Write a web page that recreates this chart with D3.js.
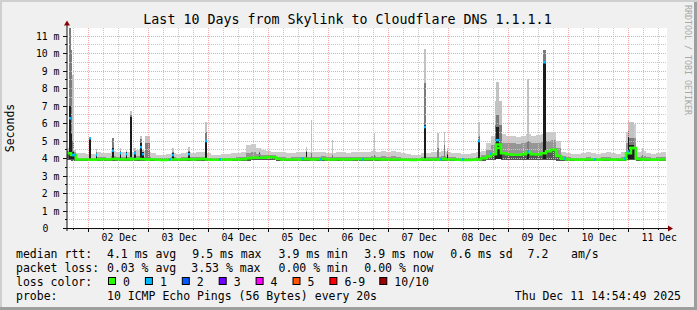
<!DOCTYPE html>
<html>
<head>
<meta charset="utf-8">
<script src="https://cdn.jsdelivr.net/npm/d3@7"></script>
<style>
body { margin: 0; background: #f0f0f0; }
text { font-family: "DejaVu Sans Mono", monospace; fill: #000; white-space: pre; }
</style>
</head>
<body>
<div id="chart"></div>
<script>
///////////////////////////// DATA /////////////////////////////

const startTime = new Date(2025, 11, 1, 14, 54, 49);
const endTime = new Date(2025, 11, 11, 14, 54, 49);
const bucketHours = 2;   // one value per 2 hours below

// median rtt (ms), one per bucket
const medRtt = [
  4.30,4.20,3.95,3.95,3.94,3.93,3.95,3.96,3.95,3.97,
  3.96,3.95,3.95,3.96,3.97,3.96,3.95,3.94,3.93,3.92,
  3.93,3.95,3.94,3.95,3.96,3.95,3.96,3.97,3.94,3.93,
  3.93,3.94,3.93,3.94,3.95,3.96,4.02,4.05,4.05,4.04,
  4.08,4.07,3.98,3.95,3.94,3.95,3.95,3.96,3.96,3.95,
  3.96,3.97,3.95,3.95,3.96,3.95,3.95,3.96,3.97,3.96,
  3.96,3.97,3.96,3.95,3.95,3.94,3.95,3.93,3.93,3.92,
  3.93,3.94,3.95,3.95,3.95,3.96,3.95,3.94,3.93,3.92,
  3.92,3.93,3.95,4.02,4.12,4.25,4.80,4.30,4.25,4.22,
  4.22,4.25,4.35,4.25,4.23,4.30,4.42,4.50,4.15,3.98,
  3.95,3.94,3.93,3.94,3.95,3.94,3.93,3.95,3.94,3.93,
  3.94,3.95,4.30,4.60,3.97,3.95,3.94,3.93,3.94,3.95
];
// slowest ping (ms)
const maxRtt = [
  4.60,4.50,4.30,4.30,4.25,4.25,4.35,4.30,4.30,4.45,
  4.40,4.35,4.35,4.40,4.50,4.45,4.40,4.30,4.20,4.20,
  4.25,4.30,4.25,4.30,4.35,4.30,4.35,4.40,4.30,4.20,
  4.20,4.25,4.25,4.30,4.30,4.40,4.80,4.85,4.60,4.50,
  4.45,4.40,4.35,4.35,4.30,4.30,4.35,4.40,4.40,4.35,
  4.40,4.40,4.30,4.30,4.40,4.35,4.30,4.35,4.40,4.35,
  4.40,4.45,4.40,4.45,4.35,4.45,4.40,4.30,4.25,4.20,
  4.20,4.30,4.30,4.35,4.40,4.45,4.35,4.30,4.30,4.25,
  4.25,4.30,4.40,4.45,4.90,5.30,6.00,5.40,5.30,5.30,
  5.25,5.30,5.40,5.30,5.35,5.40,5.50,5.50,5.00,4.40,
  4.30,4.25,4.25,4.30,4.35,4.30,4.25,4.30,4.35,4.30,
  4.25,4.35,5.50,6.00,4.40,4.45,4.30,4.25,4.30,4.35
];
// upper quartile (ms)
const q3Rtt = [
  4.45,4.35,4.05,4.05,4.03,4.02,4.08,4.06,4.05,4.12,
  4.10,4.07,4.06,4.10,4.12,4.10,4.08,4.05,4.03,4.02,
  4.04,4.06,4.05,4.06,4.08,4.06,4.08,4.10,4.05,4.03,
  4.03,4.04,4.04,4.05,4.06,4.10,4.30,4.35,4.25,4.20,
  4.22,4.18,4.10,4.07,4.05,4.06,4.08,4.10,4.10,4.08,
  4.10,4.12,4.06,4.06,4.10,4.08,4.06,4.08,4.10,4.08,
  4.10,4.12,4.10,4.12,4.08,4.12,4.10,4.05,4.04,4.02,
  4.03,4.06,4.06,4.08,4.10,4.12,4.08,4.06,4.05,4.03,
  4.03,4.05,4.10,4.20,4.50,4.80,5.20,4.90,4.90,4.90,
  4.85,4.90,4.95,4.90,4.90,4.95,5.00,5.05,4.60,4.12,
  4.06,4.04,4.04,4.05,4.06,4.05,4.04,4.06,4.08,4.05,
  4.04,4.08,4.90,5.20,4.10,4.12,4.06,4.04,4.06,4.08
];
// fastest ping (ms)
const minRtt = [
  3.90,3.88,3.85,3.85,3.85,3.85,3.85,3.85,3.85,3.85,
  3.85,3.85,3.85,3.85,3.85,3.85,3.85,3.85,3.85,3.84,
  3.85,3.85,3.85,3.85,3.85,3.85,3.85,3.85,3.85,3.85,
  3.84,3.85,3.85,3.85,3.85,3.85,3.88,3.90,3.90,3.90,
  3.90,3.90,3.86,3.85,3.85,3.85,3.85,3.85,3.85,3.85,
  3.85,3.86,3.85,3.85,3.85,3.85,3.85,3.85,3.86,3.85,
  3.85,3.86,3.85,3.85,3.85,3.85,3.85,3.84,3.84,3.84,
  3.84,3.85,3.85,3.85,3.85,3.85,3.85,3.85,3.84,3.84,
  3.84,3.85,3.85,3.88,3.90,3.90,3.95,3.90,3.90,3.90,
  3.90,3.90,3.92,3.90,3.90,3.90,3.92,3.92,3.88,3.85,
  3.85,3.85,3.84,3.85,3.85,3.85,3.84,3.85,3.85,3.84,
  3.85,3.85,3.90,3.92,3.85,3.85,3.85,3.84,3.85,3.85
];

// short bursts: [time, minutes, black top, dark top, max, median, loss]
const bursts = [
  ["2025-12-01T16:05", 45, 7.00, 11.60, 11.60, 6.30, 1],
  ["2025-12-01T16:50", 30, 5.60, 10.20, 10.20, 5.50, 0],
  ["2025-12-01T17:20", 35, 4.40, 5.00, 8.75, 4.20, 1],
  ["2025-12-02T00:05", 50, 5.20, 5.20, 5.25, 5.15, 1],
  ["2025-12-02T02:50", 30, 4.25, 4.35, 4.55, 4.20, 1],
  ["2025-12-02T09:15", 60, 4.60, 5.15, 5.20, 4.45, 1],
  ["2025-12-02T12:20", 40, 4.40, 4.45, 4.60, 4.30, 1],
  ["2025-12-02T14:45", 40, 4.35, 4.40, 4.50, 4.25, 1],
  ["2025-12-02T16:35", 45, 6.40, 6.50, 6.70, 4.00, 0],
  ["2025-12-02T18:15", 35, 4.40, 4.45, 4.60, 4.30, 1],
  ["2025-12-02T20:25", 50, 4.90, 5.10, 5.30, 4.65, 1],
  ["2025-12-02T21:25", 30, 4.35, 4.40, 4.50, 4.25, 1],
  ["2025-12-02T22:40", 100, 4.00, 4.90, 5.30, 3.95, 0],
  ["2025-12-03T09:15", 40, 4.30, 4.40, 4.60, 4.20, 1],
  ["2025-12-03T15:45", 40, 4.35, 4.45, 4.65, 4.25, 1],
  ["2025-12-03T22:35", 50, 5.05, 5.50, 6.10, 5.00, 1],
  ["2025-12-04T20:00", 35, 4.30, 4.35, 4.50, 4.20, 1],
  ["2025-12-05T14:50", 40, 4.40, 4.45, 4.65, 4.00, 0],
  ["2025-12-05T17:00", 20, 3.95, 4.30, 6.20, 3.95, 0],
  ["2025-12-06T01:15", 20, 3.95, 4.20, 5.05, 3.95, 0],
  ["2025-12-06T18:00", 20, 3.95, 4.20, 5.45, 3.95, 0],
  ["2025-12-07T14:05", 55, 5.90, 8.30, 10.25, 5.80, 1],
  ["2025-12-07T19:30", 30, 4.00, 4.60, 5.45, 3.95, 0],
  ["2025-12-07T22:00", 40, 4.05, 4.80, 5.50, 4.00, 0],
  ["2025-12-07T23:20", 30, 4.40, 4.45, 4.60, 4.30, 1],
  ["2025-12-08T11:50", 40, 5.05, 5.30, 6.10, 5.00, 1],
  ["2025-12-08T18:30", 170, 4.60, 5.90, 7.30, 4.60, 0],
  ["2025-12-08T19:00", 70, 5.80, 6.50, 8.40, 5.05, 1],
  ["2025-12-09T07:30", 30, 4.30, 5.00, 8.55, 4.40, 1],
  ["2025-12-09T13:50", 55, 9.50, 10.20, 10.20, 9.50, 1],
  ["2025-12-10T23:35", 40, 5.25, 5.60, 6.20, 4.40, 1],
  ["2025-12-11T00:15", 110, 4.75, 5.20, 6.10, 4.60, 0],
  ["2025-12-11T05:20", 20, 4.00, 4.20, 4.60, 3.95, 0]
];

// median points with 1 lost ping: [time, median]
const lossOne = [
  ["2025-12-01T18:00", 4.20], ["2025-12-03T07:55", 3.95], ["2025-12-04T03:55", 3.95],
  ["2025-12-05T13:20", 4.00], ["2025-12-05T20:35", 3.95], ["2025-12-06T13:20", 3.95],
  ["2025-12-07T20:35", 3.95], ["2025-12-08T05:20", 3.95], ["2025-12-08T16:30", 4.28],
  ["2025-12-09T22:00", 4.00], ["2025-12-10T10:00", 3.95], ["2025-12-10T22:00", 4.00]
];

const yTickValues = [0, 1, 2, 3, 4, 5, 6, 7, 8, 9, 10, 11];
const yTickLabels = ["0", "1 m", "2 m", "3 m", "4 m", "5 m", "6 m", "7 m", "8 m", "9 m", "10 m", "11 m"];
const xTickDates = ["2025-12-02T12:00", "2025-12-03T12:00", "2025-12-04T12:00", "2025-12-05T12:00",
  "2025-12-06T12:00", "2025-12-07T12:00", "2025-12-08T12:00", "2025-12-09T12:00",
  "2025-12-10T12:00", "2025-12-11T12:00"];
const xTickLabels = ["02 Dec", "03 Dec", "04 Dec", "05 Dec", "06 Dec", "07 Dec", "08 Dec", "09 Dec", "10 Dec", "11 Dec"];

const lossColors = ["#26ff00", "#00b8ff", "#0059ff", "#7000ff", "#ff00ff", "#ff5500", "#ff0000", "#a10000"];
const lossLabels = ["0", "1", "2", "3", "4", "5", "6-9", "10/10"];

const rttStats = ["4.1 ms avg", "9.5 ms max", "3.9 ms min", "3.9 ms now", "0.6 ms sd", "7.2", "am/s"];
const lossStats = ["0.03 % avg", "3.53 % max", "0.00 % min", "0.00 % now"];
const probeText = "10 ICMP Echo Pings (56 Bytes) every 20s";
const stampText = "Thu Dec 11 14:54:49 2025";
const titleText = "Last 10 Days from Skylink to Cloudflare DNS 1.1.1.1";

///////////////////////////// CHART /////////////////////////////

const width = 697, height = 310;
const HOUR = 3600e3;
const parseT = d3.timeParse("%Y-%m-%dT%H:%M");
const snap = v => Math.floor(v) + 0.5;

const x = d3.scaleTime().domain([startTime, endTime]).range([66, 666]);
const y = d3.scaleLinear().domain([0, 11.43]).range([228.5, 28.5]);

const svg = d3.select("#chart").append("svg")
  .attr("width", width).attr("height", height);

// background + 3d border
svg.append("rect").attr("width", width).attr("height", height).attr("fill", "#f0f0f0");
svg.append("path").attr("fill", "#cfcfcf")
  .attr("d", `M0,0H${width}V2H2V${height}H0Z`);
svg.append("path").attr("fill", "#9e9e9e")
  .attr("d", `M${width},${height}H0V${height - 3}H${width - 3}V2H${width}Z`);

// canvas
svg.append("rect").attr("x", 67).attr("y", 28).attr("width", 600).attr("height", 200).attr("fill", "#fff");

svg.append("clipPath").attr("id", "plot")
  .append("rect").attr("x", 67).attr("y", 28).attr("width", 600).attr("height", 200);

const plot = svg.append("g").attr("clip-path", "url(#plot)");

// base smoke
const base = medRtt.map((m, i) => ({
  t: new Date(+startTime + i * bucketHours * HOUR),
  med: m, lo: minRtt[i], q3: q3Rtt[i], hi: maxRtt[i]
}));
base.push(Object.assign({}, base[base.length - 1], { t: endTime }));

const band = (top) => d3.area().curve(d3.curveStepAfter)
  .x(d => Math.round(x(d.t)))
  .y0(d => y(d.lo))
  .y1(d => y(d[top]));

plot.append("path").datum(base).attr("d", band("hi")).attr("fill", "#cccccc").attr("shape-rendering", "crispEdges");
plot.append("path").datum(base).attr("d", band("q3")).attr("fill", "#969696").attr("shape-rendering", "crispEdges");
plot.append("path").datum(base).attr("d", band("med")).attr("fill", "#555555").attr("shape-rendering", "crispEdges");

// bursts
const burstData = bursts.map(b => ({
  t0: parseT(b[0]), t1: new Date(+parseT(b[0]) + b[1] * 60e3),
  blk: b[2], dg: b[3], hi: b[4], med: b[5], loss: b[6]
}));

function burstRects(cls, key, color) {
  plot.selectAll("." + cls).data(burstData).enter().append("rect")
    .attr("class", cls)
    .attr("x", d => Math.round(x(d.t0)))
    .attr("width", d => Math.max(1, Math.round(x(d.t1)) - Math.round(x(d.t0))))
    .attr("y", d => y(d[key]))
    .attr("height", d => Math.max(0, y(3.95) - y(d[key])))
    .attr("fill", color)
    .attr("shape-rendering", "crispEdges");
}
burstRects("b-hi", "hi", "#c2c2c2");
burstRects("b-dg", "dg", "#7c7c7c");

// grid
const grid = plot.append("g").attr("stroke-dasharray", "1,1").attr("stroke-width", 1);
const hMinor = d3.range(0.5, 11.5, 1);
grid.selectAll(".hm").data(hMinor).enter().append("line")
  .attr("x1", 67).attr("x2", 667)
  .attr("y1", d => snap(y(d))).attr("y2", d => snap(y(d)))
  .attr("stroke", "#c8c8c8");
const vMinor = d3.timeHour.every(6).range(startTime, endTime).filter(d => d.getHours() !== 0);
grid.selectAll(".vm").data(vMinor).enter().append("line")
  .attr("y1", 28).attr("y2", 228)
  .attr("x1", d => snap(x(d))).attr("x2", d => snap(x(d)))
  .attr("stroke", "#c8c8c8");
grid.selectAll(".hM").data(yTickValues.slice(1)).enter().append("line")
  .attr("x1", 67).attr("x2", 667)
  .attr("y1", d => snap(y(d))).attr("y2", d => snap(y(d)))
  .attr("stroke", "#f3a4a4");
const vMajor = d3.timeDay.range(startTime, endTime);
grid.selectAll(".vM").data(vMajor).enter().append("line")
  .attr("y1", 28).attr("y2", 228)
  .attr("x1", d => snap(x(d))).attr("x2", d => snap(x(d)))
  .attr("stroke", "#f3a4a4");

burstRects("b-blk", "blk", "#1c1c1c");

// median line
plot.append("path").datum(base)
  .attr("d", d3.line().curve(d3.curveStepAfter).x(d => Math.round(x(d.t))).y(d => y(d.med)))
  .attr("fill", "none").attr("stroke", lossColors[0]).attr("stroke-width", 2.5);

plot.selectAll(".b-med").data(burstData).enter().append("rect")
  .attr("x", d => Math.round(x(d.t0)))
  .attr("width", d => Math.max(1, Math.round(x(d.t1)) - Math.round(x(d.t0))))
  .attr("y", d => y(d.med) - 1.25).attr("height", 2.5)
  .attr("fill", d => lossColors[d.loss]);

plot.selectAll(".l1").data(lossOne).enter().append("rect")
  .attr("x", d => Math.round(x(parseT(d[0]))))
  .attr("width", 2)
  .attr("y", d => y(d[1]) - 1.25).attr("height", 2.5)
  .attr("fill", lossColors[1]);

// axes ticks
const ticks = svg.append("g").attr("stroke", "#101010").attr("stroke-width", 1);
ticks.selectAll(".ty").data(yTickValues).enter().append("line")
  .attr("x1", 63).attr("x2", 67).attr("y1", d => snap(y(d))).attr("y2", d => snap(y(d)));
ticks.selectAll(".tym").data(hMinor).enter().append("line")
  .attr("x1", 65).attr("x2", 67).attr("y1", d => snap(y(d))).attr("y2", d => snap(y(d)));
ticks.selectAll(".tx").data(vMajor).enter().append("line")
  .attr("y1", 228).attr("y2", 232).attr("x1", d => snap(x(d))).attr("x2", d => snap(x(d)));
ticks.selectAll(".txm").data(vMinor).enter().append("line")
  .attr("y1", 228).attr("y2", 230).attr("x1", d => snap(x(d))).attr("x2", d => snap(x(d)));

// axis lines + arrows
svg.append("line").attr("x1", 63).attr("x2", 668).attr("y1", 228.5).attr("y2", 228.5).attr("stroke", "#101010");
svg.append("line").attr("x1", 67).attr("x2", 67).attr("y1", 231).attr("y2", 25).attr("stroke", "#101010");
svg.append("path").attr("d", "M668,225.5L673,228.5L668,231.5Z").attr("fill", "#8a0000");
svg.append("path").attr("d", "M64,25.5L67,20.5L70,25.5Z").attr("fill", "#8a0000");

// tick labels
const yAxis = d3.axisLeft(y).tickValues(yTickValues)
  .tickFormat((d, i) => yTickLabels[i]).tickSize(0).tickPadding(7.5);
const gy = svg.append("g").attr("transform", "translate(67,0)").call(yAxis);
gy.select(".domain").remove();
gy.selectAll("text").style("font-family", "DejaVu Sans Mono").attr("font-size", 9.8).attr("fill", "#000");
gy.selectAll(".tick").filter(d => d === 0).select("text")
  .attr("text-anchor", "start").attr("x", -24.6);

const xAxis = d3.axisBottom(x).tickValues(xTickDates.map(parseT))
  .tickFormat((d, i) => xTickLabels[i]).tickSize(0).tickPadding(6.5);
const gx = svg.append("g").attr("transform", "translate(0,228)").call(xAxis);
gx.select(".domain").remove();
gx.selectAll("text").style("font-family", "DejaVu Sans Mono").attr("font-size", 9.8).attr("fill", "#000");

// titles
svg.append("text").attr("x", 347.5).attr("y", 23.5).attr("text-anchor", "middle")
  .attr("font-size", 13.3).text(titleText);
svg.append("text").attr("transform", "translate(14,128) rotate(-90)").attr("text-anchor", "middle")
  .attr("font-size", 11.5).text("Seconds");
svg.append("text").attr("transform", "translate(685,5) rotate(90)")
  .attr("font-size", 8.3).style("fill", "#a8a8a8").text("RRDTOOL / TOBI OETIKER");

// legend
const lg = svg.append("g").attr("font-size", 11.5);
lg.append("text").attr("x", 16).attr("y", 258).text("median rtt:");
lg.append("text").attr("x", 16).attr("y", 272).text("packet loss:");
lg.append("text").attr("x", 16).attr("y", 286).text("loss color:");
lg.append("text").attr("x", 16).attr("y", 300).text("probe:");

const statX = [107, 192.3, 278.6, 364.3, 450.3, 527.6, 571];
rttStats.forEach((s, i) => lg.append("text").attr("x", statX[i]).attr("y", 258).text(s));
lossStats.forEach((s, i) => lg.append("text").attr("x", i === 1 ? 191.3 : statX[i]).attr("y", 272).text(s));

lossColors.forEach((c, i) => {
  const bx = 108.5 + i * 36.9 + (i === 7 ? 13 : 0);
  lg.append("rect").attr("x", bx).attr("y", 277.5).attr("width", 7).attr("height", 7)
    .attr("fill", c).attr("stroke", "#000").attr("stroke-width", 1);
  lg.append("text").attr("x", bx + 14.5).attr("y", 286).text(lossLabels[i]);
});

lg.append("text").attr("x", 107).attr("y", 300).text(probeText);
lg.append("text").attr("x", 681).attr("y", 300).attr("text-anchor", "end").text(stampText);
</script>
</body>
</html>
